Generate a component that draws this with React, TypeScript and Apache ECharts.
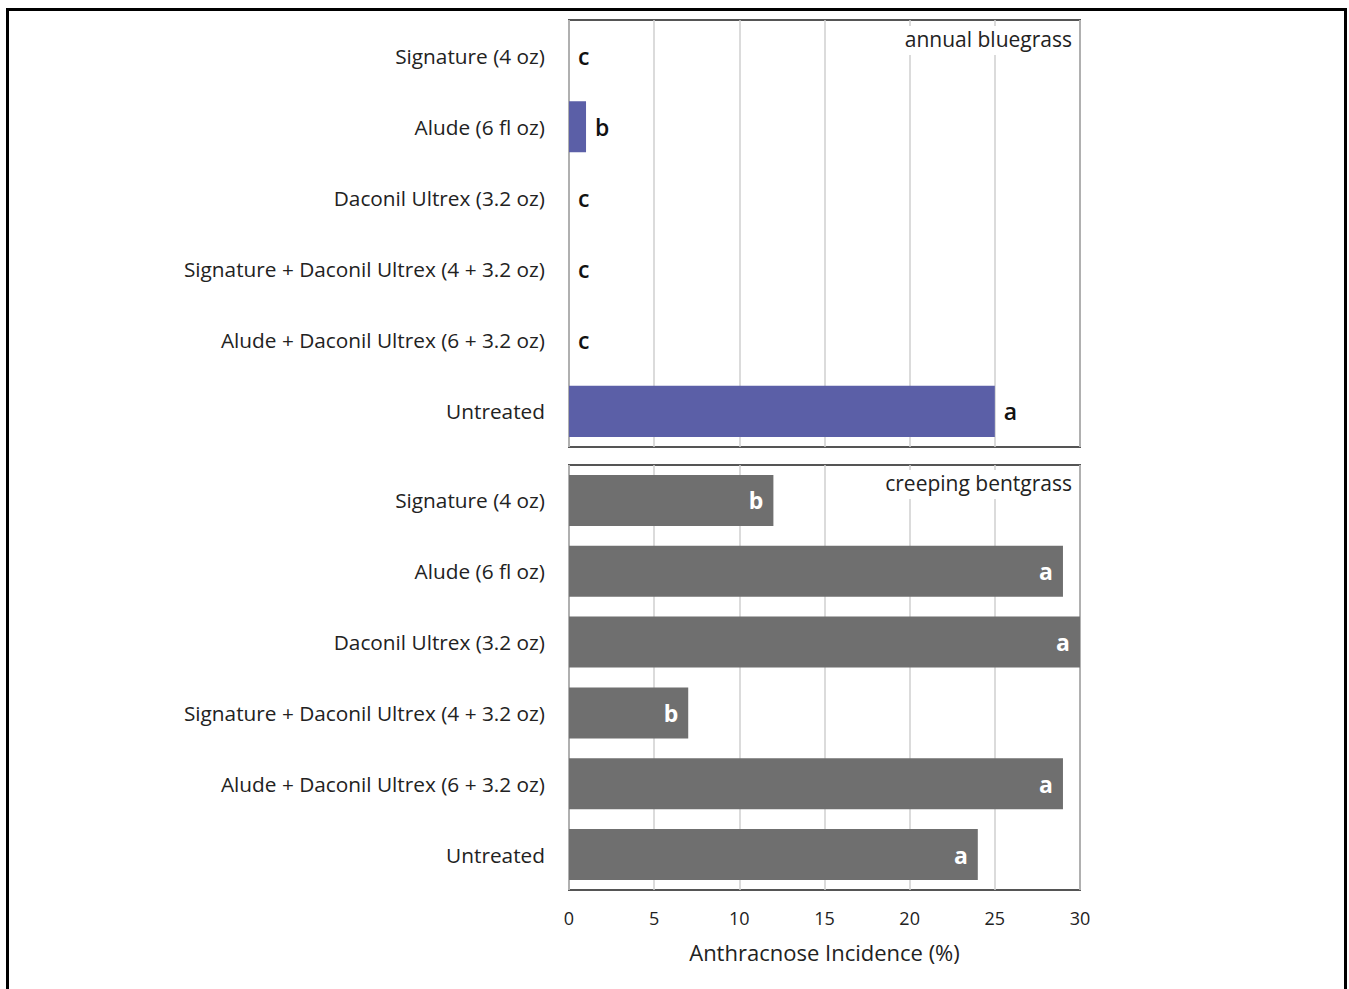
import React, { useEffect, useRef } from "react";
import * as echarts from "echarts";

const categories = [
  "Signature (4 oz)",
  "Alude (6 fl oz)",
  "Daconil Ultrex (3.2 oz)",
  "Signature + Daconil Ultrex (4 + 3.2 oz)",
  "Alude + Daconil Ultrex (6 + 3.2 oz)",
  "Untreated",
];
const bluegrassValues = [0, 1, 0, 0, 0, 25];
const bluegrassLetters = ["c", "b", "c", "c", "c", "a"];
const bentgrassValues = [12, 29, 30, 7, 29, 24];
const bentgrassLetters = ["b", "a", "a", "b", "a", "a"];
const xTicks = [0, 5, 10, 15, 20, 25, 30];
const panelTitles = ["annual bluegrass", "creeping bentgrass"];
const axisTitle = "Anthracnose Incidence (%)";

const FONT = "'Open Sans', Lato, sans-serif";

export default function App() {
  const ref = useRef<HTMLDivElement>(null);
  useEffect(() => {
    if (!ref.current) return;
    const chart = echarts.init(ref.current, null, { renderer: "svg" });
    const xBase = (gridIndex: number, showLabels: boolean) => ({
      type: "value",
      gridIndex,
      min: xTicks[0],
      max: xTicks[xTicks.length - 1],
      interval: 5,
      axisLine: { show: false },
      axisTick: { show: false },
      axisLabel: {
        show: showLabels,
        color: "#222",
        fontSize: 18,
        fontFamily: FONT,
        margin: 19,
      },
      splitLine: { show: true, lineStyle: { color: "#cfcfcf", width: 1.5 } },
      ...(showLabels
        ? {
            name: axisTitle,
            nameLocation: "middle",
            nameGap: 51,
            nameTextStyle: { color: "#222", fontSize: 22, fontFamily: FONT },
          }
        : {}),
    });
    const yBase = (gridIndex: number) => ({
      type: "category",
      gridIndex,
      data: categories,
      inverse: true,
      axisLine: { show: false },
      axisTick: { show: false },
      axisLabel: { color: "#222", fontSize: 20.8, fontFamily: FONT, margin: 24, padding: [5, 0, 0, 0] },
    });
    chart.setOption({
      animation: false,
      backgroundColor: "#fff",
      grid: [
        { left: 569, top: 20, width: 511, height: 427, show: true, borderColor: "#555", borderWidth: 2, backgroundColor: "transparent" },
        { left: 569, top: 465, width: 511, height: 425, show: true, borderColor: "#555", borderWidth: 2, backgroundColor: "transparent" },
      ],
      xAxis: [xBase(0, false), xBase(1, true)],
      yAxis: [yBase(0), yBase(1)],
      series: [
        {
          type: "bar",
          xAxisIndex: 0,
          yAxisIndex: 0,
          data: bluegrassValues,
          barWidth: "72%",
          itemStyle: { color: "#5b5fa7" },
          label: {
            show: true,
            position: "right",
            distance: 9,
            formatter: (p: any) => bluegrassLetters[p.dataIndex],
            color: "#111",
            fontSize: 23,
            fontWeight: 600,
            fontFamily: FONT,
          },
        },
        {
          type: "bar",
          xAxisIndex: 1,
          yAxisIndex: 1,
          data: bentgrassValues,
          barWidth: "72%",
          itemStyle: { color: "#6f6f6f" },
          label: {
            show: true,
            position: "insideRight",
            distance: 10,
            formatter: (p: any) => bentgrassLetters[p.dataIndex],
            color: "#fff",
            fontSize: 23,
            fontWeight: "bold",
            fontFamily: FONT,
          },
        },
      ],
      graphic: [
        {
          type: "text",
          right: 1349 - 1075,
          top: 26,
          z: 100,
          style: {
            text: panelTitles[0],
            fill: "#222",
            font: `21px ${FONT}`,
            backgroundColor: "#fff",
            padding: [2, 3, 6, 4],
          },
        },
        {
          type: "text",
          right: 1349 - 1075,
          top: 470,
          z: 100,
          style: {
            text: panelTitles[1],
            fill: "#222",
            font: `21px ${FONT}`,
            backgroundColor: "#fff",
            padding: [2, 3, 6, 4],
          },
        },
      ],
    });
    return () => chart.dispose();
  }, []);
  return (
    <div style={{ position: "fixed", left: 0, top: 0, width: 1349, height: 989, background: "#fff", overflow: "hidden" }}>
      <div ref={ref} style={{ position: "absolute", left: 0, top: 0, width: 1349, height: 989 }} />
      <div
        style={{
          position: "absolute",
          left: 6,
          top: 8,
          width: 1335,
          height: 1000,
          border: "3px solid #000",
          pointerEvents: "none",
        }}
      />
    </div>
  );
}
